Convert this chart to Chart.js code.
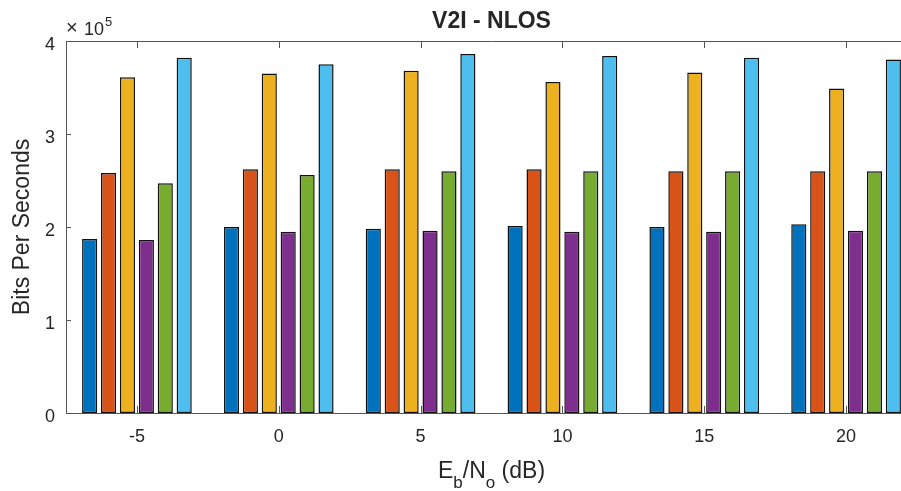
<!DOCTYPE html>
<html>
<head>
<meta charset="utf-8">
<script src="https://cdn.jsdelivr.net/npm/chart.js@4/dist/chart.umd.min.js"></script>
<style>
  html, body { margin: 0; padding: 0; background: #fff; overflow: hidden; }
  #wrap { width: 920px; height: 491px; }
</style>
</head>
<body>
<div id="wrap"><canvas id="bar" width="920" height="491"></canvas></div>
<script>
const categories = ["-5", "0", "5", "10", "15", "20"];
const yTicks = [0, 100000, 200000, 300000, 400000];

// six series (bits per second)
const series1 = [187000, 200000, 198000, 201000, 200000, 203000];
const series2 = [258000, 262000, 262000, 262000, 260000, 260000];
const series3 = [361000, 365000, 368000, 356000, 366000, 349000];
const series4 = [186000, 195000, 196000, 195000, 195000, 196000];
const series5 = [247000, 256000, 260000, 260000, 260000, 260000];
const series6 = [382000, 375000, 386000, 384000, 382000, 380000];

const colors = ["#0072BD", "#D95319", "#EDB120", "#7E2F8E", "#77AC30", "#4DBEEE"];
const allSeries = [series1, series2, series3, series4, series5, series6];

const FONT = "'Liberation Sans', Arial, Helvetica, sans-serif";
const TEXT = "#262626";
const AXIS = "#555555";

// title, exponent label, x label with subscripts, inward ticks and top border
const matlabAxes = {
  id: "matlabAxes",
  afterDraw(chart) {
    const { ctx, chartArea } = chart;
    const x = chart.scales.x, y = chart.scales.y;
    ctx.save();
    ctx.strokeStyle = AXIS;
    ctx.lineWidth = 1;
    ctx.beginPath();
    ctx.moveTo(chartArea.left, chartArea.top + 0.5);
    ctx.lineTo(chartArea.right, chartArea.top + 0.5);
    yTicks.forEach(v => {
      const py = Math.round(y.getPixelForValue(v)) + 0.5;
      ctx.moveTo(chartArea.left, py);
      ctx.lineTo(chartArea.left + 5, py);
    });
    categories.forEach((c, i) => {
      const px = Math.round(x.getPixelForValue(i)) + 0.5;
      ctx.moveTo(px, chartArea.top);
      ctx.lineTo(px, chartArea.top + 7);
      ctx.moveTo(px, chartArea.bottom);
      ctx.lineTo(px, chartArea.bottom - 7);
    });
    ctx.stroke();

    const cx = (chartArea.left + chartArea.right) / 2;
    ctx.fillStyle = TEXT;
    ctx.textBaseline = "alphabetic";

    // title
    ctx.font = "bold 23px " + FONT;
    ctx.textAlign = "center";
    ctx.fillText("V2I - NLOS", cx, 28);

    // exponent
    ctx.textAlign = "left";
    ctx.font = "20px " + FONT;
    ctx.fillText("\u00d7", 66, 34);
    ctx.font = "18px " + FONT;
    ctx.fillText("10", 84, 35);
    const w10 = ctx.measureText("10").width;
    ctx.font = "13px " + FONT;
    ctx.fillText("5", 84 + w10 + 1, 26);

    // x label: E_b/N_o (dB)
    const parts = [
      ["E", 23, 0], ["b", 17, 10], ["/N", 23, 0], ["o", 17, 10], [" (dB)", 23, 0]
    ];
    let total = 0;
    parts.forEach(p => { ctx.font = p[1] + "px " + FONT; total += ctx.measureText(p[0]).width; });
    let px = cx - total / 2;
    parts.forEach(p => {
      ctx.font = p[1] + "px " + FONT;
      ctx.fillText(p[0], px, 478 + p[2]);
      px += ctx.measureText(p[0]).width;
    });
    ctx.restore();
  }
};

new Chart(document.getElementById("bar"), {
  type: "bar",
  data: {
    labels: categories,
    datasets: allSeries.map((d, i) => ({
      data: d,
      backgroundColor: colors[i],
      borderColor: "#111111",
      borderWidth: 1.5,
      borderSkipped: false,
      categoryPercentage: 0.8,
      barPercentage: 0.8,
    })),
  },
  options: {
    responsive: false,
    animation: false,
    devicePixelRatio: 1,
    layout: { padding: { top: 41, right: 3, left: 0, bottom: 0 } },
    plugins: {
      legend: { display: false },
      tooltip: { enabled: false },
      title: { display: false },
    },
    scales: {
      x: {
        afterFit: s => { s.height = 78; },
        grid: { display: false, drawTicks: false },
        border: { display: true, color: AXIS, width: 1 },
        ticks: { color: TEXT, font: { family: FONT, size: 18 }, padding: 13, maxRotation: 0 },
      },
      y: {
        min: 0,
        max: 400000,
        afterFit: s => { s.width = 66; },
        grid: { display: false, drawTicks: false },
        border: { display: true, color: AXIS, width: 1 },
        ticks: {
          stepSize: 100000,
          color: TEXT,
          font: { family: FONT, size: 18 },
          padding: 11,
          labelOffset: 4,
          callback: v => String(v / 100000),
        },
        title: {
          display: true,
          text: "Bits Per Seconds",
          color: TEXT,
          font: { family: FONT, size: 23 },
          padding: { top: 9, bottom: 0 },
        },
      },
    },
  },
  plugins: [matlabAxes],
});
</script>
</body>
</html>
